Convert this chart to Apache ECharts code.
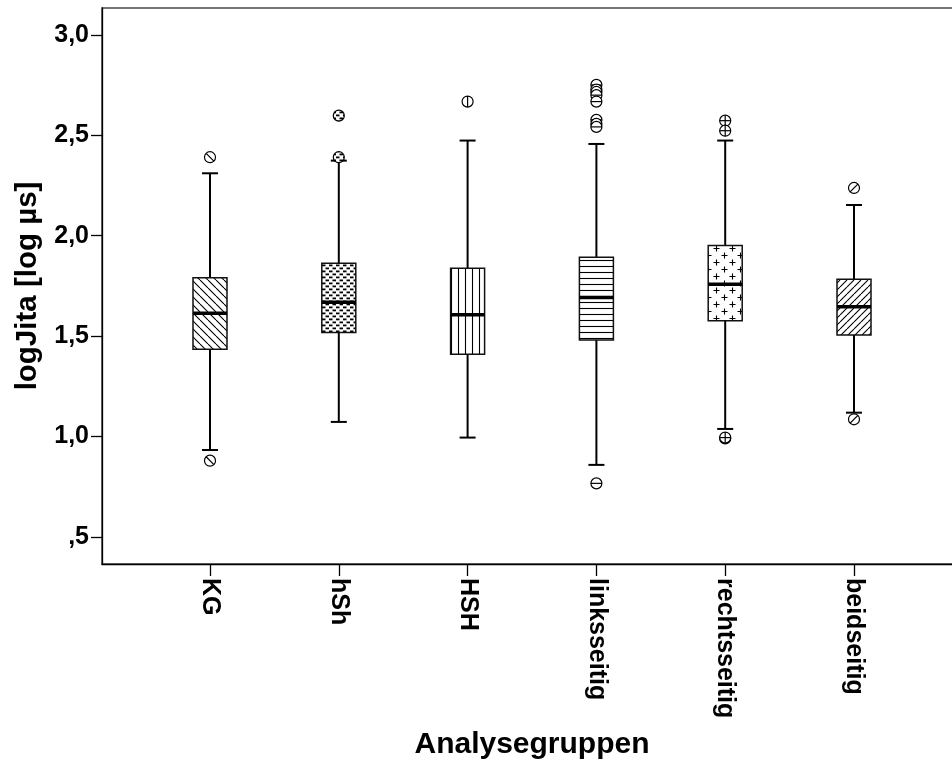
<!DOCTYPE html>
<html>
<head>
<meta charset="utf-8">
<title>logJita nach Analysegruppen</title>
<script src="https://cdn.jsdelivr.net/npm/echarts@6/dist/echarts.min.js"></script>
<style>
  html, body { margin: 0; padding: 0; background: #fff; overflow: hidden; }
  #chart { width: 952px; height: 767px; }
</style>
</head>
<body>
<div id="chart"></div>
<script>
// Groups and box-plot statistics of logJita [log µs]
const categories  = ['KG', 'hSh', 'HSH', 'linksseitig', 'rechtsseitig', 'beidseitig'];
const whiskerLow  = [0.933, 1.073, 0.995, 0.859, 1.038, 1.119];
const quartile1   = [1.435, 1.518, 1.410, 1.481, 1.577, 1.506];
const medians     = [1.614, 1.669, 1.606, 1.692, 1.758, 1.647];
const quartile3   = [1.791, 1.863, 1.838, 1.893, 1.951, 1.783];
const whiskerHigh = [2.311, 2.374, 2.474, 2.457, 2.474, 2.153];
const outliers = [
  [2.391, 0.880],
  [2.598, 2.391],
  [2.668],
  [2.751, 2.728, 2.716, 2.700, 2.668, 2.577, 2.557, 2.542, 0.767],
  [2.573, 2.523, 0.991, 0.995],
  [2.238, 1.086]
];
const yTicks = [0.5, 1.0, 1.5, 2.0, 2.5, 3.0];

const FONT = '"Liberation Sans", Arial, sans-serif';
const BOX_W = 34;
const CAP_W = 16;
const DOT_R = 5.5;

// Hatch fills, one per group
function makePattern(w, h, draw) {
  const c = document.createElement('canvas');
  c.width = w; c.height = h;
  const ctx = c.getContext('2d');
  ctx.fillStyle = '#fff';
  ctx.fillRect(0, 0, w, h);
  ctx.strokeStyle = '#000';
  ctx.fillStyle = '#000';
  ctx.lineWidth = 1.1;
  ctx.beginPath();
  draw(ctx, w, h);
  ctx.stroke();
  return { image: c, repeat: 'repeat' };
}
const patterns = [
  makePattern(8, 8, (ctx, w) => { for (const k of [-w, 0, w]) { ctx.moveTo(k, 0); ctx.lineTo(k + w, w); } }),
  makePattern(7, 6, (ctx) => { ctx.fillRect(0, 0.5, 3.5, 1.8); ctx.fillRect(3.5, 3.5, 3.5, 1.8); }),
  makePattern(7, 4, (ctx) => { ctx.moveTo(3.5, 0); ctx.lineTo(3.5, 4); }),
  makePattern(4, 6, (ctx) => { ctx.moveTo(0, 2.5); ctx.lineTo(4, 2.5); }),
  makePattern(16, 14, (ctx) => {
    ctx.moveTo(1.5, 3.5); ctx.lineTo(7.5, 3.5); ctx.moveTo(4.5, 0.5); ctx.lineTo(4.5, 6.5);
    ctx.moveTo(9.5, 10.5); ctx.lineTo(15.5, 10.5); ctx.moveTo(12.5, 7.5); ctx.lineTo(12.5, 13.5);
  }),
  makePattern(7, 7, (ctx, w) => { for (const k of [-w, 0, w]) { ctx.moveTo(k, w); ctx.lineTo(k + w, 0); } })
];

const boxData = categories.map((c, i) =>
  [i + 1, whiskerLow[i], quartile1[i], medians[i], quartile3[i], whiskerHigh[i]]);
const outlierData = [];
outliers.forEach((vals, i) => vals.forEach(v => outlierData.push([i + 1, v, i])));

const lineStyle = (w) => ({ stroke: '#000', lineWidth: w, fill: null });

function renderBox(params, api) {
  const i = params.dataIndex;
  const x = api.value(0);
  const lo = api.coord([x, api.value(1)]);
  const q1 = api.coord([x, api.value(2)]);
  const md = api.coord([x, api.value(3)]);
  const q3 = api.coord([x, api.value(4)]);
  const hi = api.coord([x, api.value(5)]);
  const cx = md[0];
  return {
    type: 'group',
    children: [
      { type: 'line', shape: { x1: cx, y1: hi[1], x2: cx, y2: q3[1] }, style: lineStyle(2) },
      { type: 'line', shape: { x1: cx, y1: q1[1], x2: cx, y2: lo[1] }, style: lineStyle(2) },
      { type: 'line', shape: { x1: cx - CAP_W / 2, y1: hi[1], x2: cx + CAP_W / 2, y2: hi[1] }, style: lineStyle(2) },
      { type: 'line', shape: { x1: cx - CAP_W / 2, y1: lo[1], x2: cx + CAP_W / 2, y2: lo[1] }, style: lineStyle(2) },
      { type: 'rect', shape: { x: cx - BOX_W / 2, y: q3[1], width: BOX_W, height: q1[1] - q3[1] },
        style: { fill: patterns[i], stroke: '#111', lineWidth: 1.5 } },
      { type: 'line', shape: { x1: cx - BOX_W / 2, y1: md[1], x2: cx + BOX_W / 2, y2: md[1] }, style: lineStyle(3.5) }
    ]
  };
}

function renderOutlier(params, api) {
  const p = api.coord([api.value(0), api.value(1)]);
  const g = api.value(2);
  const [x, y] = p;
  const r = DOT_R;
  const d = r * 0.707;
  const children = [
    { type: 'circle', shape: { cx: x, cy: y, r: r },
      style: { fill: g === 1 ? patterns[1] : '#fff', stroke: '#000', lineWidth: 1.2 } }
  ];
  const mark = (x1, y1, x2, y2) => children.push({ type: 'line', shape: { x1, y1, x2, y2 }, style: lineStyle(1.2) });
  if (g === 0) mark(x - d, y - d, x + d, y + d);
  if (g === 2) mark(x, y - r, x, y + r);
  if (g === 3) mark(x - r, y, x + r, y);
  if (g === 4) { mark(x - r, y, x + r, y); mark(x, y - r, x, y + r); }
  if (g === 5) mark(x - d, y + d, x + d, y - d);
  return { type: 'group', children };
}

const chart = echarts.init(document.getElementById('chart'), null, { renderer: 'canvas' });
chart.setOption({
  backgroundColor: '#fff',
  animation: false,
  grid: {
    left: 102, width: 860, top: 8, bottom: 203,
    outerBoundsMode: 'none',
    containLabel: false,
    show: true, borderColor: '#4a4a4a', borderWidth: 1.6, backgroundColor: 'transparent'
  },
  xAxis: {
    type: 'value',
    min: 0.1615, max: 6.8385,
    name: 'Analysegruppen',
    nameLocation: 'middle',
    nameGap: 166,
    nameTextStyle: { fontFamily: FONT, fontWeight: 'bold', fontSize: 30, color: '#000' },
    axisLine: { show: true, onZero: false, lineStyle: { color: '#000', width: 1.3 } },
    axisTick: { show: true, length: 12, customValues: categories.map((c, i) => i + 1),
                lineStyle: { color: '#000', width: 1.3 } },
    axisLabel: {
      show: true, rotate: -90, margin: 14,
      customValues: categories.map((c, i) => i + 1),
      formatter: (v) => categories[Math.round(v) - 1] || '',
      fontFamily: FONT, fontWeight: 'bold', fontSize: 25, color: '#000'
    },
    splitLine: { show: false }
  },
  yAxis: {
    type: 'value',
    min: 0.3655, max: 3.134,
    name: 'logJita [log µs]',
    nameLocation: 'middle',
    nameGap: 59,
    nameTextStyle: { fontFamily: FONT, fontWeight: 'bold', fontSize: 29.5, color: '#000' },
    axisLine: { show: true, lineStyle: { color: '#000', width: 1.3 } },
    axisTick: { show: true, length: 11, customValues: yTicks, lineStyle: { color: '#000', width: 1.3 } },
    axisLabel: {
      show: true, margin: 13,
      customValues: yTicks,
      formatter: (v) => v.toFixed(1).replace('.', ',').replace(/^0/, ''),
      fontFamily: FONT, fontWeight: 'bold', fontSize: 25, color: '#000'
    },
    splitLine: { show: false }
  },
  series: [
    {
      type: 'custom',
      name: 'box',
      renderItem: renderBox,
      encode: { x: 0, y: [1, 2, 3, 4, 5] },
      data: boxData,
      clip: false
    },
    {
      type: 'custom',
      name: 'outlier',
      renderItem: renderOutlier,
      encode: { x: 0, y: 1 },
      data: outlierData,
      clip: false
    }
  ]
});
</script>
</body>
</html>
